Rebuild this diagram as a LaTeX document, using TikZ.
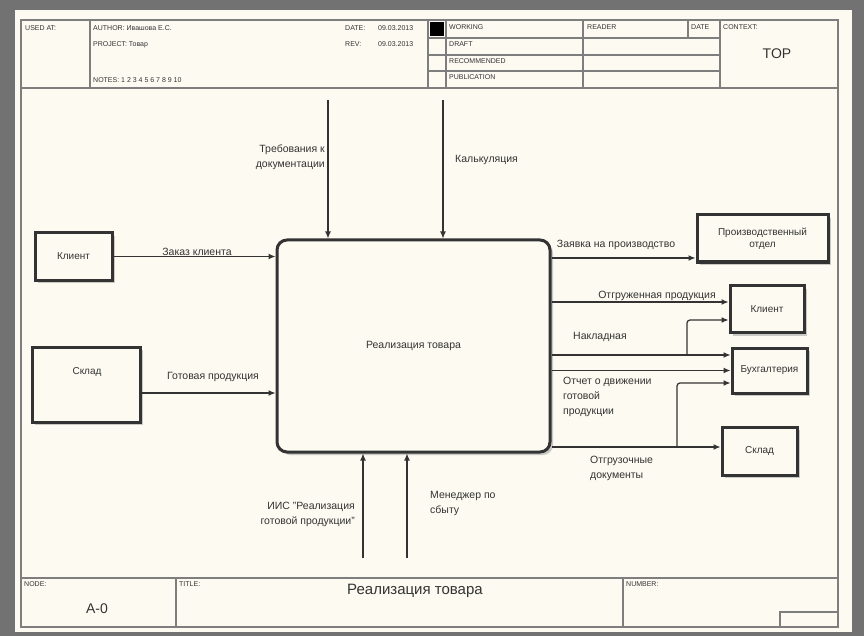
\documentclass[tikz,border=0pt]{standalone}
\usepackage{fontspec}
\setmainfont{Liberation Sans}
\usetikzlibrary{arrows.meta,shadows,calc}
\definecolor{cream}{HTML}{FCFAF1}
\definecolor{framec}{HTML}{7E7E7E}
\definecolor{ink}{HTML}{333333}
\definecolor{outerc}{HTML}{727272}
\begin{document}
\begin{tikzpicture}[x=1pt,y=-1pt,
  blk/.style={draw=ink, line width=3pt, fill=cream, inner sep=1pt, align=center,
    font=\fontsize{10}{12}\selectfont, text=ink,
    drop shadow={shadow xshift=3pt,shadow yshift=-3pt,fill=black!40}},
  arr/.style={draw=ink, line width=1.2pt, -{Latex[length=7pt,width=6pt]}},
  lbl/.style={font=\fontsize{10.5}{15}\selectfont, text=ink, inner sep=0pt},
  hdr/.style={font=\fontsize{7}{8}\selectfont, text=ink, inner sep=0pt, anchor=north west},
  fr/.style={draw=framec, line width=1.6pt}]
\useasboundingbox (0,0) rectangle (864,636);
\fill[outerc] (0,0) rectangle (864,636);
\fill[cream] (15,10) rectangle (852,632);
% frame
\draw[fr] (21,20) rectangle (838,627);
\draw[fr] (21,88) -- (838,88);
\draw[fr] (90,20) -- (90,88);
\draw[fr] (428,20) -- (428,88);
\draw[fr] (446,20) -- (446,88);
\draw[fr] (583,20) -- (583,88);
\draw[fr] (720,20) -- (720,88);
\draw[fr] (688,20) -- (688,38);
\draw[fr] (428,38) -- (720,38);
\draw[fr] (428,55) -- (720,55);
\draw[fr] (428,71) -- (720,71);
\fill[black] (430,22) rectangle (444,36);
\draw[fr] (21,578) -- (838,578);
\draw[fr] (176,578) -- (176,627);
\draw[fr] (623,578) -- (623,627);
\draw[fr] (838,612) -- (780,612) -- (780,627);
% header texts
\node[hdr] (h1) at (25,25) {USED AT:};
\node[hdr] (h2) at (93,25) {AUTHOR: Ивашова Е.С.};
\node[hdr] (h3) at (93,41) {PROJECT: Товар};
\node[hdr] (h4) at (93,77) {NOTES: 1 2 3 4 5 6 7 8 9 10};
\node[hdr] (h5) at (345,25) {DATE:};
\node[hdr] (h6) at (378,25) {09.03.2013};
\node[hdr] (h7) at (345,41) {REV:};
\node[hdr] (h8) at (378,41) {09.03.2013};
\node[hdr] (h9) at (449,24) {WORKING};
\node[hdr] (h10) at (449,41) {DRAFT};
\node[hdr] (h11) at (449,58) {RECOMMENDED};
\node[hdr] (h12) at (449,74) {PUBLICATION};
\node[hdr] (h13) at (587,24) {READER};
\node[hdr] (h14) at (691,24) {DATE};
\node[hdr] (h15) at (723,24) {CONTEXT:};
\node[font=\fontsize{14}{16}\selectfont, text=ink] (top) at (777,54) {TOP};
% footer texts
\node[hdr] (f1) at (24,581) {NODE:};
\node[hdr] (f2) at (179,581) {TITLE:};
\node[hdr] (f3) at (626,581) {NUMBER:};
\node[font=\fontsize{14}{16}\selectfont, text=ink] (node) at (97,609) {A-0};
\node[font=\fontsize{15}{17}\selectfont, text=ink] (title) at (415,591) {Реализация товара};
% boxes
\node[blk, rounded corners=10pt, minimum width=273pt, minimum height=212pt, line width=3pt,
  font=\fontsize{10.5}{12}\selectfont] (main) at (413.5,346) {Реализация товара};
\node[blk, minimum width=77pt, minimum height=47pt] (kl) at (73.5,256.5) {Клиент};
\node[blk, minimum width=108pt, minimum height=75pt] (skl) at (86,384.5) {};
\node[font=\fontsize{10}{12}\selectfont, text=ink] (sklt) at (87,372) {Склад};
\node[blk, minimum width=131pt, minimum height=47pt] (pr) at (762.5,238.5) {Производственный\\отдел};
\node[blk, minimum width=74pt, minimum height=47pt] (kr) at (767,309) {Клиент};
\node[blk, minimum width=75pt, minimum height=45pt] (bu) at (769.5,370.5) {Бухгалтерия};
\node[blk, minimum width=75pt, minimum height=48pt] (sr) at (759.5,451) {Склад};
% controls
\coordinate (c1) at (328,100);
\coordinate (c2) at (443,100);
\draw[arr] (c1) -- (c1 |- main.north);
\draw[arr] (c2) -- (c2 |- main.north);
% mechanisms
\coordinate (m1) at (363,558);
\coordinate (m2) at (407,558);
\draw[arr] (m1) -- (m1 |- main.south);
\draw[arr] (m2) -- (m2 |- main.south);
% inputs
\draw[arr] (kl.east) -- (kl.east -| main.west);
\coordinate (i2) at ([yshift=-8.5pt]skl.east);
\draw[arr] (i2) -- (i2 -| main.west);
% outputs
\coordinate (p1) at ([yshift=-19.5pt]pr.west);
\coordinate (k1) at ([yshift=7pt]kr.west);
\coordinate (k2) at ([yshift=-11pt]kr.west);
\coordinate (n1) at ([yshift=15.5pt]bu.west);
\coordinate (g1) at ([yshift=-12.5pt]bu.west);
\coordinate (s1) at ([yshift=4pt]sr.west);
\coordinate (j1) at (687,0);
\coordinate (j2) at (677,0);
\draw[arr] (p1 -| main.east) -- (p1);
\draw[arr] (k1 -| main.east) -- (k1);
\draw[arr] (n1 -| main.east) -- (n1);
\draw[arr, rounded corners=3pt] (n1 -| j1) |- (k2);
\draw[arr] (bu.west -| main.east) -- (bu.west);
\draw[arr] (s1 -| main.east) -- (s1);
\draw[arr, rounded corners=3pt] (s1 -| j2) |- (g1);
% labels
\node[lbl, anchor=east, align=right] (lc1) at (325,157) {Требования к\\документации};
\node[lbl, anchor=west] (lc2) at (455,160) {Калькуляция};
\node[lbl] (li1) at (197,252) {Заказ клиента};
\node[lbl] (li2) at (213,377) {Готовая продукция};
\node[lbl] (lo1) at (616,245) {Заявка на производство};
\node[lbl] (lo2) at (657,296) {Отгруженная продукция};
\node[lbl] (lo3) at (600,337) {Накладная};
\node[lbl, anchor=north west, align=left] (lo4) at (563,377) {Отчет о движении\\готовой\\продукции};
\node[lbl, anchor=north west, align=left] (lo5) at (590,456) {Отгрузочные\\документы};
\node[lbl, anchor=east, align=right] (lm1) at (355,514) {ИИС "Реализация\\готовой продукции"};
\node[lbl, anchor=west, align=left] (lm2) at (430,503) {Менеджер по\\сбыту};
\end{tikzpicture}
\end{document}
